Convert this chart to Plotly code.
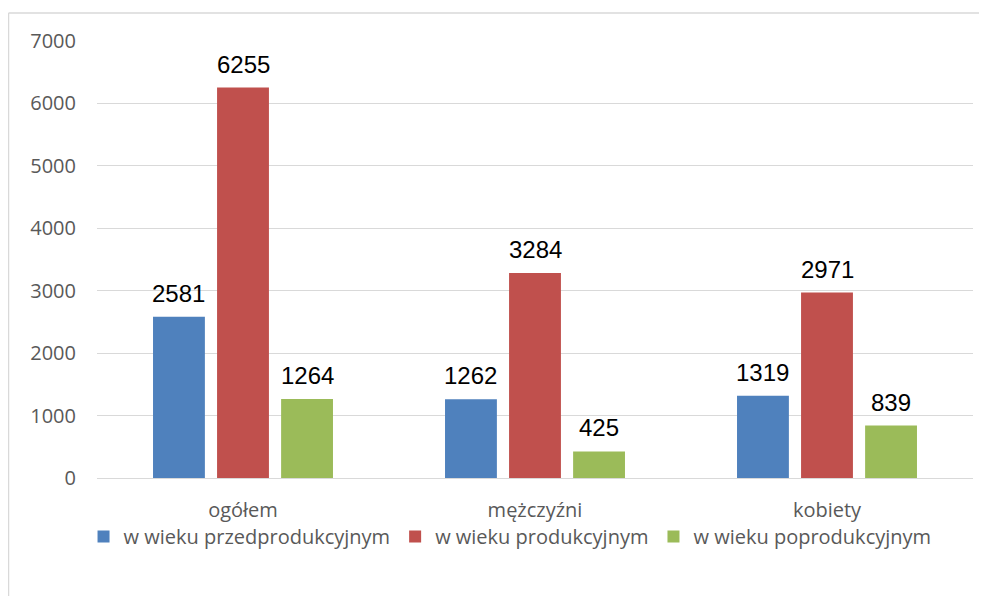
import plotly.graph_objects as go

categories = ["ogółem", "mężczyźni", "kobiety"]
series_names = ["w wieku przedprodukcyjnym", "w wieku produkcyjnym", "w wieku poprodukcyjnym"]
przed = [2581, 1262, 1319]
prod = [6255, 3284, 2971]
po = [1264, 425, 839]
y_ticks = [0, 1000, 2000, 3000, 4000, 5000, 6000, 7000]

colors = ["#4F81BD", "#C0504D", "#9BBB59"]
series = [przed, prod, po]

# page has an 8px body margin, so the figure is sized to fit the window
W, H = 979, 588
ML, MR, MT, MB = 89, 14, 33, 118
BARGAP = 0.342
BARGROUPGAP = 0.19

fig = go.Figure()
for name, vals, col in zip(series_names, series, colors):
    fig.add_trace(go.Bar(x=categories, y=vals, name=name, marker=dict(color=col, line=dict(width=0))))

plot_w = W - ML - MR
plot_h = H - MT - MB
slot = plot_w / len(categories) * (1 - BARGAP) / len(series)
annotations = []
for i, vals in enumerate(series):
    shift = (i - 1) * slot
    for c, v in zip(categories, vals):
        annotations.append(dict(x=c, y=v, text=str(v), showarrow=False, xref="x", yref="y",
                                yanchor="bottom", xanchor="center", xshift=shift, yshift=8,
                                font=dict(family="Liberation Sans, Arial", size=24, color="#000000")))

tick_font = dict(family="Open Sans", size=20, color="#595959")

frame_left = (0.5 - ML) / plot_w
frame_top = (plot_h + MT - 5) / plot_h

fig.update_layout(
    width=W, height=H,
    margin=dict(l=ML, r=MR, t=MT, b=MB, autoexpand=False),
    paper_bgcolor="white", plot_bgcolor="white",
    barmode="group", bargap=BARGAP, bargroupgap=BARGROUPGAP,
    annotations=annotations,
    showlegend=True,
    legend=dict(orientation="h", x=0.4715, xanchor="center", y=-0.134, yanchor="middle",
                font=tick_font, itemwidth=30, tracegroupgap=0, bgcolor="rgba(0,0,0,0)"),
    xaxis=dict(showgrid=False, showline=False, zeroline=False, tickfont=tick_font,
               ticks="", ticklabelstandoff=18),
    yaxis=dict(range=[0, 7000], tickvals=y_ticks, showgrid=True, gridcolor="#D9D9D9", gridwidth=1,
               zeroline=True, zerolinecolor="#D9D9D9", zerolinewidth=1, showline=False,
               tickfont=tick_font, ticks="", ticklabelstandoff=20),
    shapes=[
        dict(type="line", xref="paper", yref="paper", x0=frame_left, x1=1.1, y0=frame_top, y1=frame_top,
             line=dict(color="#D9D9D9", width=1.5)),
        dict(type="line", xref="paper", yref="paper", x0=frame_left, x1=frame_left, y0=-0.4, y1=frame_top,
             line=dict(color="#D9D9D9", width=1.5)),
    ],
    font=tick_font,
)

fig.write_html("out.html")
